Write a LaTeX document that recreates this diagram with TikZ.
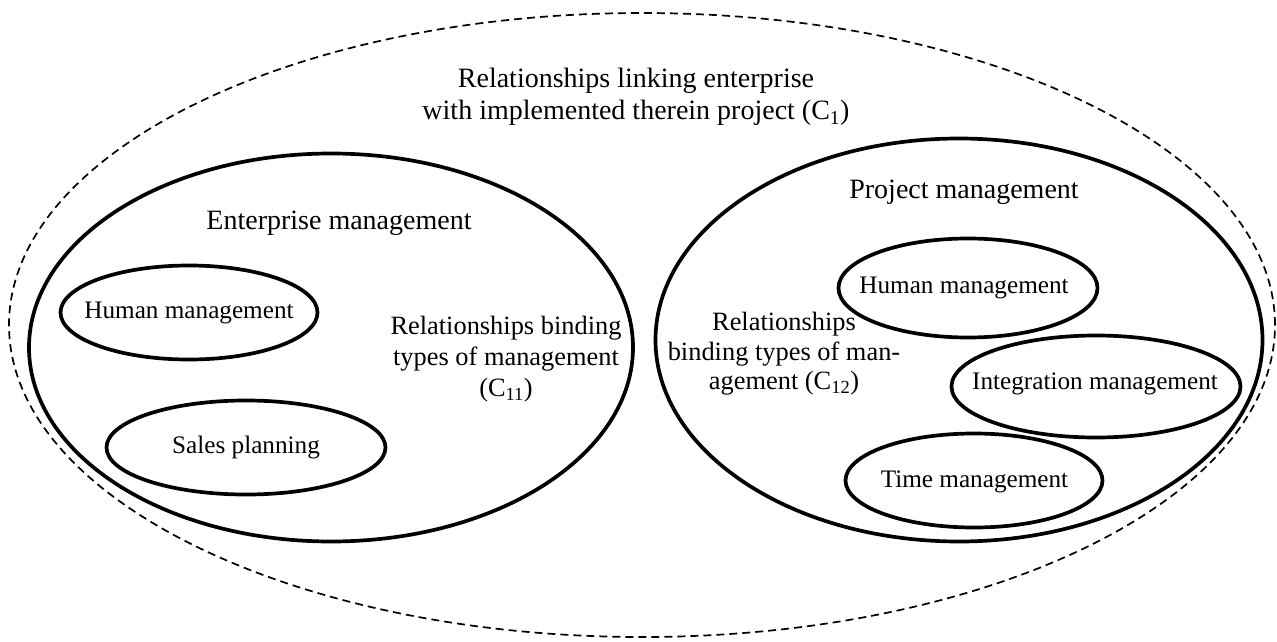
\documentclass[tikz,border=0pt]{standalone}
\usepackage{fontspec}
\setmainfont{Liberation Serif}
\usetikzlibrary{shapes.geometric}
\begin{document}
\begin{tikzpicture}[x=1pt,y=-1pt,
  oval/.style={ellipse, draw, line width=3.7pt, inner sep=0pt},
  outeroval/.style={ellipse, draw, line width=1.7pt, dash pattern=on 8pt off 5pt, inner sep=0pt},
  bigtxt/.style={font=\fontsize{28}{32}\selectfont, align=center, inner sep=0pt},
  midtxt/.style={font=\fontsize{26.4}{31}\selectfont, align=center, inner sep=0pt},
  smalltxt/.style={font=\fontsize{25.2}{30}\selectfont, inner sep=0pt}]
\useasboundingbox (0,0) rectangle (1277,642);
% outer dashed ellipse
\node[outeroval, minimum width=1266pt, minimum height=624pt] (outer) at (642,325) {};
\node[bigtxt] (c1) at (636,97) {Relationships linking enterprise\\with implemented therein project (C\textsubscript{1})};
% enterprise management
\node[oval, minimum width=604pt, minimum height=388pt] (ent) at (331,347.5) {};
\node[bigtxt] (enttxt) at (339,223) {Enterprise management};
\node[oval, minimum width=257pt, minimum height=94pt] (hml) at (189,312.5) {};
\node[smalltxt] (hmltxt) at (hml.center) {Human management};
\node[oval, minimum width=279pt, minimum height=94pt] (sp) at (246,447.5) {};
\node[smalltxt] (sptxt) at (sp.center) {Sales planning};
\node[midtxt] (c11) at (506,359.5) {Relationships binding\\types of management\\(C\textsubscript{11})};
% project management
\node[oval, minimum width=607pt, minimum height=403pt] (prj) at (959,340) {};
\node[bigtxt] (prjtxt) at (964,192) {Project management};
\node[oval, minimum width=259pt, minimum height=99pt] (hmr) at (968,288) {};
\node[smalltxt] (hmrtxt) at (964,288) {Human management};
\node[oval, minimum width=289pt, minimum height=102pt] (im) at (1096,386.5) {};
\node[smalltxt] (imtxt) at (1095,384) {Integration management};
\node[oval, minimum width=257pt, minimum height=94pt] (tm) at (974,480.5) {};
\node[smalltxt] (tmtxt) at (974.5,482) {Time management};
\node[midtxt, font=\fontsize{26.4}{29.5}\selectfont] (c12) at (784,354) {Relationships\\binding types of man-\\agement (C\textsubscript{12})};
\end{tikzpicture}
\end{document}
